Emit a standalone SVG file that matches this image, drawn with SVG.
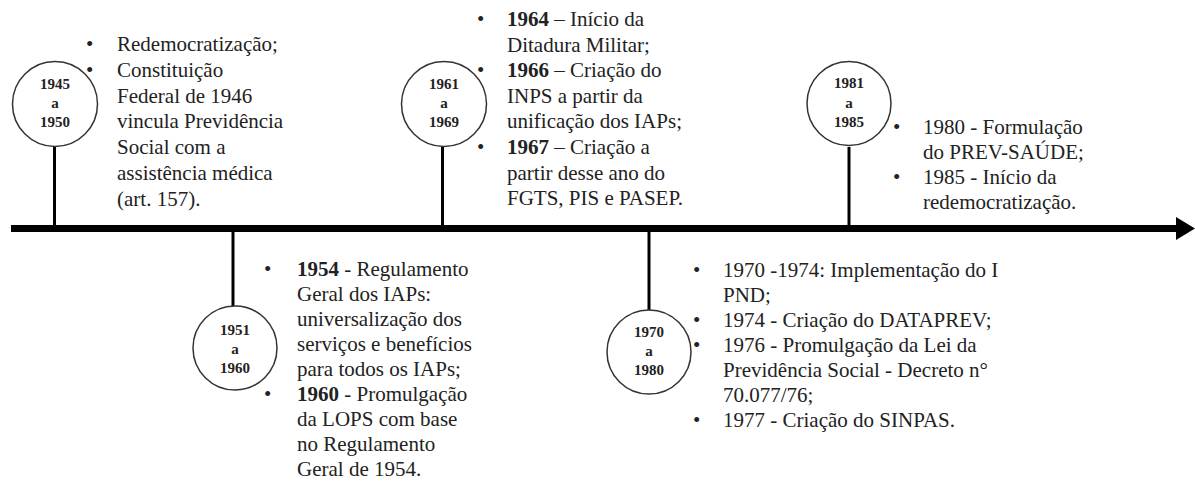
<svg xmlns="http://www.w3.org/2000/svg" width="1195" height="487" viewBox="0 0 1195 487">
<style>
.t{font-family:"Liberation Serif","Times New Roman",serif;font-size:21px;fill:#222}
.b{font-weight:bold}
.c{fill:#fff;stroke:#333;stroke-width:1.5}
.y{font-family:"Liberation Serif","Times New Roman",serif;font-size:15px;font-weight:bold;fill:#222;text-anchor:middle}
.s{stroke:#000;stroke-width:3}
</style>
<rect width="1195" height="487" fill="#fff"/>
<g id="connectors">
<line class="s" x1="54.5" y1="146" x2="54.5" y2="228"/>
<line class="s" x1="233" y1="230" x2="233" y2="306"/>
<line class="s" x1="442.5" y1="147" x2="442.5" y2="228"/>
<line class="s" x1="649" y1="230" x2="649" y2="310"/>
<line class="s" x1="849" y1="147" x2="849" y2="228"/>
<line x1="11" y1="228.5" x2="1178" y2="228.5" stroke="#000" stroke-width="7"/>
<polygon points="1176,217 1195,228.5 1176,240" fill="#000"/>
</g>
<g id="n1945">
<circle class="c" cx="55" cy="104" r="42.5"/>
<text class="y" x="55" y="89">1945</text>
<text class="y" x="55" y="108">a</text>
<text class="y" x="55" y="127">1950</text>
</g>
<g id="t1945" class="t">
<text x="86" y="51">•</text>
<text x="86" y="76.8">•</text>
<text x="117" y="51">Redemocratização;</text>
<text x="117" y="76.8">Constituição</text>
<text x="117" y="102.6">Federal de 1946</text>
<text x="117" y="128.4">vincula Previdência</text>
<text x="117" y="154.2">Social com a</text>
<text x="117" y="180">assistência médica</text>
<text x="117" y="205.8">(art. 157).</text>
</g>
<g id="n1961">
<circle class="c" cx="444" cy="104" r="42.5"/>
<text class="y" x="444" y="89">1961</text>
<text class="y" x="444" y="108">a</text>
<text class="y" x="444" y="127">1969</text>
</g>
<g id="t1961" class="t">
<text x="477" y="26">•</text>
<text x="477" y="77.2">•</text>
<text x="477" y="154">•</text>
<text x="507" y="26"><tspan class="b">1964</tspan> – Início da</text>
<text x="507" y="51.6">Ditadura Militar;</text>
<text x="507" y="77.2"><tspan class="b">1966</tspan> – Criação do</text>
<text x="507" y="102.8">INPS a partir da</text>
<text x="507" y="128.4">unificação dos IAPs;</text>
<text x="507" y="154"><tspan class="b">1967</tspan> – Criação a</text>
<text x="507" y="179.6">partir desse ano do</text>
<text x="507" y="205.2">FGTS, PIS e PASEP.</text>
</g>
<g id="n1981">
<circle class="c" cx="849" cy="103.5" r="42"/>
<text class="y" x="849" y="88">1981</text>
<text class="y" x="849" y="108">a</text>
<text class="y" x="849" y="127">1985</text>
</g>
<g id="t1981" class="t">
<text x="893" y="134">•</text>
<text x="893" y="184">•</text>
<text x="923" y="134">1980 - Formulação</text>
<text x="923" y="159">do PREV-SAÚDE;</text>
<text x="923" y="184">1985 - Início da</text>
<text x="923" y="209">redemocratização.</text>
</g>
<g id="n1951">
<circle class="c" cx="235" cy="348" r="42"/>
<text class="y" x="235" y="335">1951</text>
<text class="y" x="235" y="354">a</text>
<text class="y" x="235" y="373">1960</text>
</g>
<g id="t1951" class="t">
<text x="264" y="276">•</text>
<text x="264" y="401">•</text>
<text x="297" y="276"><tspan class="b">1954</tspan> - Regulamento</text>
<text x="297" y="301">Geral dos IAPs:</text>
<text x="297" y="326">universalização dos</text>
<text x="297" y="351">serviços e benefícios</text>
<text x="297" y="376">para todos os IAPs;</text>
<text x="297" y="401"><tspan class="b">1960</tspan> - Promulgação</text>
<text x="297" y="426">da LOPS com base</text>
<text x="297" y="451">no Regulamento</text>
<text x="297" y="476">Geral de 1954.</text>
</g>
<g id="n1970">
<circle class="c" cx="649" cy="352" r="42"/>
<text class="y" x="649" y="337">1970</text>
<text class="y" x="649" y="356">a</text>
<text class="y" x="649" y="375">1980</text>
</g>
<g id="t1970" class="t">
<text x="693" y="277">•</text>
<text x="693" y="327">•</text>
<text x="693" y="352">•</text>
<text x="693" y="427">•</text>
<text x="723" y="277">1970 -1974: Implementação do I</text>
<text x="723" y="302">PND;</text>
<text x="723" y="327">1974 - Criação do DATAPREV;</text>
<text x="723" y="352">1976 - Promulgação da Lei da</text>
<text x="723" y="377">Previdência Social - Decreto n°</text>
<text x="723" y="402">70.077/76;</text>
<text x="723" y="427">1977 - Criação do SINPAS.</text>
</g>
</svg>
